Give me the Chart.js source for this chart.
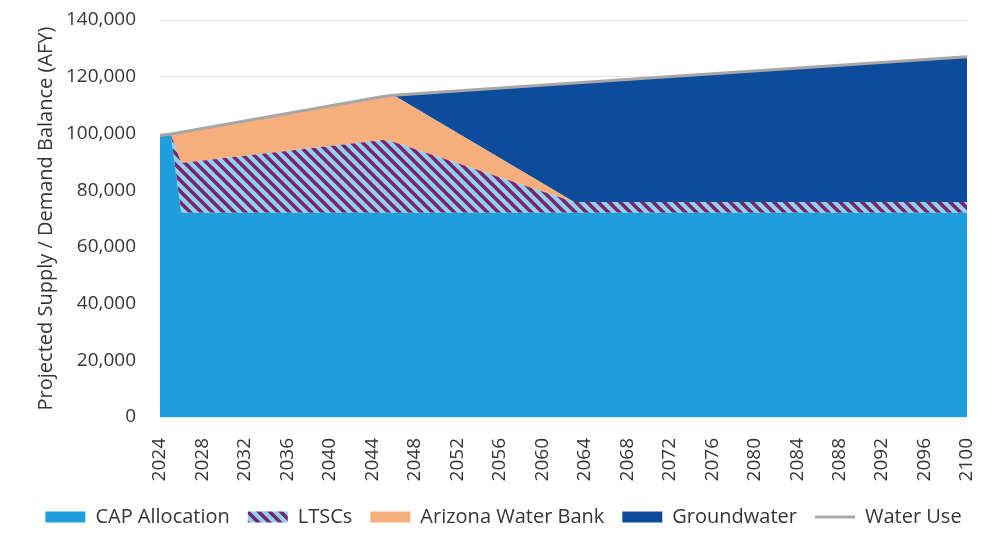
<!DOCTYPE html>
<html>
<head>
<meta charset="utf-8">
<script src="https://cdn.jsdelivr.net/npm/chart.js@4.4.1/dist/chart.umd.min.js"></script>
<style>
  html, body { margin: 0; padding: 0; background: #ffffff; }
  #c { display: block; }
</style>
</head>
<body>
<canvas id="c" width="986" height="534"></canvas>
<script>
// Break-point years of the supply / demand projection (linear in between)
const years = [2024, 2025, 2026, 2045, 2046, 2063, 2100];

// Supply components, acre-feet per year (stacked)
const capAllocation = [99300, 99800, 72000, 72000, 72000, 72000, 72000];
const ltscs         = [0, 0, 17600, 25700, 25000, 3800, 3800];
const waterBank     = [0, 0, 10800, 15300, 16500, 0, 0];
const groundwater   = [0, 0, 0, 0, 0, 41950, 51200];

// Total demand, acre-feet per year
const waterUse      = [99300, 99800, 100400, 113000, 113500, 117750, 127000];

// Axis ranges and tick spacing
const yMin = 0, yMax = 140000, yStep = 20000;
const xMin = 2024, xMax = 2100, xStep = 4;

const FONT = "'Open Sans', 'Noto Sans', sans-serif";
const TEXT = '#353535';

// Diagonal purple-on-light-blue hatch for the LTSC band
function makeHatch() {
  const s = 11;
  const cv = document.createElement('canvas');
  cv.width = s; cv.height = s;
  const g = cv.getContext('2d');
  g.fillStyle = '#8fd2f3';
  g.fillRect(0, 0, s, s);
  g.strokeStyle = '#7c2468';
  g.lineWidth = 3.6;
  g.beginPath();
  for (let k = -1; k <= 1; k++) {
    g.moveTo(k * s - 1, -1);
    g.lineTo(k * s + s + 1, s + 1);
  }
  g.stroke();
  return g.createPattern(cv, 'repeat');
}

const ctx = document.getElementById('c').getContext('2d');
const hatch = makeHatch();
const pts = arr => years.map((x, i) => ({ x: x, y: arr[i] }));

const area = (label, values, color, fill) => ({
  label: label,
  data: pts(values),
  backgroundColor: color,
  borderWidth: 0,
  borderColor: 'rgba(0,0,0,0)',
  fill: fill,
  pointRadius: 0,
  tension: 0,
  stack: 'supply'
});

new Chart(ctx, {
  type: 'line',
  data: {
    datasets: [
      area('CAP Allocation', capAllocation, '#1e9fdc', 'origin'),
      area('LTSCs', ltscs, hatch, '-1'),
      area('Arizona Water Bank', waterBank, '#f5ae7c', '-1'),
      area('Groundwater', groundwater, '#0d4b9b', '-1'),
      {
        label: 'Water Use',
        data: pts(waterUse),
        borderColor: '#a7a7a7',
        backgroundColor: '#a7a7a7',
        borderWidth: 3,
        fill: false,
        pointRadius: 0,
        tension: 0,
        stack: 'demand',
        order: -1
      }
    ]
  },
  options: {
    responsive: false,
    animation: false,
    events: [],
    layout: { padding: { left: 21, right: 0, top: 20, bottom: 0 } },
    plugins: {
      tooltip: { enabled: false },
      legend: {
        position: 'bottom',
        maxHeight: 45,
        labels: {
          usePointStyle: true,
          pointStyleWidth: 40,
          boxHeight: 11,
          padding: 18,
          color: TEXT,
          font: { family: FONT, size: 20 },
          generateLabels(chart) {
            return chart.data.datasets.map((ds, i) => {
              const isLine = ds.fill === false;
              return {
                text: ds.label,
                datasetIndex: i,
                fillStyle: isLine ? 'rgba(0,0,0,0)' : ds.backgroundColor,
                strokeStyle: isLine ? ds.borderColor : 'rgba(0,0,0,0)',
                lineWidth: isLine ? 3 : 0,
                pointStyle: isLine ? 'line' : 'rect',
                fontColor: TEXT,
                hidden: false,
                rotation: 0
              };
            });
          }
        }
      }
    },
    scales: {
      x: {
        type: 'linear',
        min: xMin,
        max: xMax,
        grid: { display: false },
        border: { display: false },
        ticks: {
          stepSize: xStep,
          autoSkip: false,
          minRotation: 90,
          maxRotation: 90,
          padding: 13,
          color: TEXT,
          font: { family: FONT, size: 19 },
          callback: v => String(v)
        },
        afterFit(scale) {
          scale.height = 72;
          scale.paddingLeft = 0;
          scale.paddingRight = 19;
        }
      },
      y: {
        stacked: true,
        min: yMin,
        max: yMax,
        grid: { color: '#e6e2e2', lineWidth: 1, drawTicks: false },
        border: { display: false },
        ticks: {
          stepSize: yStep,
          padding: 24,
          color: TEXT,
          font: { family: FONT, size: 19 },
          callback: v => v.toLocaleString('en-US')
        },
        title: {
          display: true,
          text: 'Projected Supply / Demand Balance (AFY)',
          color: TEXT,
          font: { family: FONT, size: 20, lineHeight: 1 },
          padding: { top: 15, bottom: 0 }
        },
        afterFit(scale) {
          scale.width = 139;
          scale.paddingTop = 0;
          scale.paddingBottom = 0;
        }
      }
    }
  }
});
</script>
</body>
</html>
